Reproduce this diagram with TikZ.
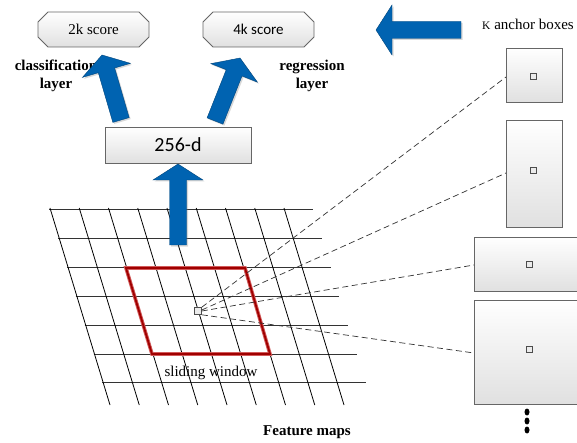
\documentclass[tikz,border=0pt]{standalone}
\usepackage{fontspec}
\setmainfont{Liberation Serif}
\newfontfamily\calib{Carlito}
\usetikzlibrary{calc,shadows,shapes.geometric}
\definecolor{arrblue}{RGB}{0,99,177}
\definecolor{wincore}{RGB}{160,0,0}
\definecolor{winhalo}{RGB}{210,90,90}
\tikzset{
  gridh/.style={line width=1pt,draw=black!80},
  grids/.style={line width=0.8pt,draw=black},
  boxfill/.style={draw=black!60,line width=0.8pt,top color=white,bottom color=black!12},
  minisq/.style={draw=black!70,fill=black!8,line width=0.6pt,minimum size=6pt,inner sep=0pt},
  dashline/.style={draw=black!80,dash pattern=on 6pt off 3.5pt,line width=0.7pt},
  bigarrow/.style={fill=arrblue,draw=arrblue!70!black,line width=0.4pt,drop shadow={shadow xshift=1.5pt,shadow yshift=-1.5pt,opacity=0.3}},
  lbl/.style={font=\fontsize{15}{18}\selectfont,inner sep=0pt,align=center},
  lblb/.style={font=\fontsize{15}{18}\selectfont\bfseries,inner sep=0pt,align=center},
}
\newcommand{\bluearrow}[2]{%
  \path[bigarrow]
    ($(#1)!8.5pt!90:(#2)$) --
    ($($(#2)!16pt!(#1)$)!8.5pt!-90:(#1)$) --
    ($($(#2)!16pt!(#1)$)!25pt!-90:(#1)$) --
    (#2) --
    ($($(#2)!16pt!(#1)$)!25pt!90:(#1)$) --
    ($($(#2)!16pt!(#1)$)!8.5pt!90:(#1)$) --
    ($(#1)!8.5pt!-90:(#2)$) -- cycle;}
\begin{document}
\begin{tikzpicture}[x=1pt,y=-1pt]
\clip (0,0) rectangle (577,443);
\fill[white] (0,0) rectangle (577,443);
% grid
\foreach \i in {0,...,6}{
  \draw[gridh] ({49+8.9*\i},{209.5+28.9*\i}) -- ({313+8.8*\i},{209.5+28.9*\i});
}
\foreach \j in {0,...,8}{
  \draw[grids] ({50+29.25*\j},208) -- ({110+29.25*\j},405);
}
% sliding window
\draw[winhalo,line width=3.6pt,line join=miter] (126,268) -- (245,268) -- (270,354) -- (152,354) -- cycle;
\draw[wincore,line width=1.8pt,line join=miter] (126,268) -- (245,268) -- (270,354) -- (152,354) -- cycle;
% anchor boxes
\node[boxfill,minimum width=56pt,minimum height=54pt,inner sep=0pt] (ab1) at (534,75) {};
\node[boxfill,minimum width=56pt,minimum height=107pt,inner sep=0pt] (ab2) at (534,173.5) {};
\node[boxfill,minimum width=110pt,minimum height=54pt,inner sep=0pt] (ab3) at (529,264) {};
\node[boxfill,minimum width=110pt,minimum height=104pt,inner sep=0pt] (ab4) at (529,352) {};
\node[minisq] (c1) at (533,76) {};
\node[minisq] (c2) at (533,170) {};
\node[minisq] (c3) at (529,264) {};
\node[minisq] (c4) at (529,349) {};
% centre cell
\node[minisq,minimum size=7pt] (cell) at (198,311) {};
\coordinate (e1) at (506,77);
\coordinate (e2) at (506,173);
\coordinate (e3) at (474,265);
\coordinate (e4) at (474,353);
\draw[dashline] (cell.north east) -- (e1);
\draw[dashline] (cell.east) ++(0,-1) -- (e2);
\draw[dashline] (cell.east) -- (e3);
\draw[dashline] (cell.south east) -- (e4);
% dots
\foreach \k/\yy in {1/412,2/421,3/430}{
  \node[fill=black,ellipse,inner sep=0pt,minimum width=5pt,minimum height=7pt] (dot\k) at (527,\yy) {};
}
% score boxes
\path[boxfill] (48,12) -- (139,12) -- (149,22) -- (149,37) -- (139,47) -- (48,47) -- (38,37) -- (38,22) -- cycle;
\node[lbl] (s2k) at (93.5,29.5) {2k score};
\path[boxfill] (213,12) -- (304,12) -- (314,22) -- (314,37) -- (304,47) -- (213,47) -- (203,37) -- (203,22) -- cycle;
\node[lbl,font=\fontsize{15}{18}\selectfont\calib] (s4k) at (258.5,29.5) {4k score};
% 256-d
\node[boxfill,minimum width=146pt,minimum height=36pt,inner sep=0pt,font=\fontsize{20}{24}\selectfont\calib] (feat) at (178,145) {256-d};
% labels
\node[lblb] (cls) at (56,76) {classification\\layer};
\node[lblb] (reg) at (312,76) {regression\\layer};
\node[lbl] (slide) at (211,373) {sliding window};
\node[lblb] (fmaps) at (307,432) {Feature maps};
\node[lbl,anchor=base west] (kab) at (482,30) {{\fontsize{11.5}{12}\selectfont K} anchor boxes};
% arrows
\coordinate (a1t) at (121,120); \coordinate (a1h) at (102,55);
\coordinate (a2t) at (215,121); \coordinate (a2h) at (240,58);
\coordinate (a3t) at (178,245); \coordinate (a3h) at (178,164);
\coordinate (a4t) at (461,30);  \coordinate (a4h) at (376,30);
\bluearrow{a1t}{a1h}
\bluearrow{a2t}{a2h}
\bluearrow{a3t}{a3h}
\bluearrow{a4t}{a4h}
\end{tikzpicture}
\end{document}
